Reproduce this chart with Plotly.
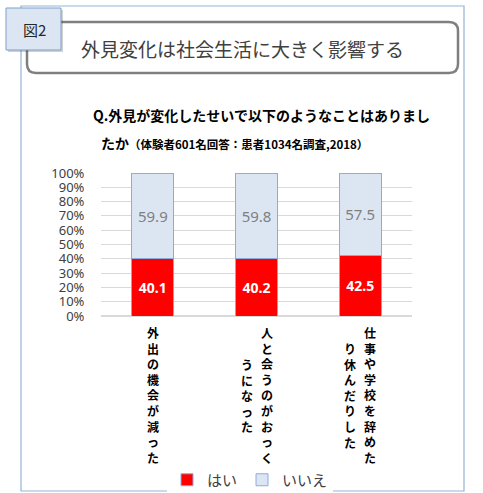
import plotly.graph_objects as go

W, H = 483, 493

# data
categories = ["外出の機会が減った", "人と会うのがおっくうになった", "仕事や学校を辞めたり休んだりした"]
label_columns = [
    ["外出の機会が減った"],
    ["人と会うのがおっく", "うになった"],
    ["仕事や学校を辞めた", "り休んだりした"],
]
series_names = ["はい", "いいえ"]
yes_values = [40.1, 40.2, 42.5]
no_values = [59.9, 59.8, 57.5]
ytick_vals = list(range(0, 101, 10))
ytick_text = [f"{v}%" for v in ytick_vals]

fig_label = "図2"
headline = "外見変化は社会生活に大きく影響する"
question_1 = "Q.外見が変化したせいで以下のようなことはありまし"
question_2 = "たか"
question_note = "（体験者601名回答：患者1034名調査,2018）"

JP = "Noto Sans CJK JP"
NUM = "Noto Sans"


def px(x):
    return x / W


def py(y):
    return 1 - y / H


fig = go.Figure()
fig.add_trace(go.Bar(
    x=categories, y=yes_values, name=series_names[0],
    marker=dict(color="#FF0000", line=dict(color="#8FAADC", width=1)),
    text=[f"{v:.1f}" for v in yes_values], textposition="inside",
    insidetextanchor="middle", constraintext="none",
    textfont=dict(family=NUM, size=14, color="white", weight="bold"),
))
fig.add_trace(go.Bar(
    x=categories, y=no_values, name=series_names[1],
    marker=dict(color="#DCE6F2", line=dict(color="#8FAADC", width=1)),
    text=[f"{v:.1f}" for v in no_values], textposition="inside",
    insidetextanchor="middle", constraintext="none",
    textfont=dict(family=NUM, size=15, color="#7F7F7F"),
))

shapes = []
# outer frame
shapes.append(dict(type="rect", xref="paper", yref="paper",
                   x0=px(21), x1=px(464), y0=py(491), y1=py(6),
                   line=dict(color="#95B3D7", width=1.2), layer="below"))


# rounded headline box
def rounded(x0, y0, x1, y1, r):
    rx, ry = r / W, r / H
    X0, X1, Y0, Y1 = px(x0), px(x1), py(y0), py(y1)
    return (f"M {X0 + rx},{Y0} L {X1 - rx},{Y0} Q {X1},{Y0} {X1},{Y0 - ry} "
            f"L {X1},{Y1 + ry} Q {X1},{Y1} {X1 - rx},{Y1} "
            f"L {X0 + rx},{Y1} Q {X0},{Y1} {X0},{Y1 + ry} "
            f"L {X0},{Y0 - ry} Q {X0},{Y0} {X0 + rx},{Y0} Z")


shapes.append(dict(type="path", xref="paper", yref="paper",
                   path=rounded(27, 22, 458, 73, 9),
                   fillcolor="white", line=dict(color="#7F7F7F", width=2.5)))
# 図2 tag with shadow
shapes.append(dict(type="rect", xref="paper", yref="paper",
                   x0=px(8), x1=px(63), y0=py(52), y1=py(10),
                   fillcolor="rgba(0,0,0,0.18)", line=dict(width=0)))
shapes.append(dict(type="rect", xref="paper", yref="paper",
                   x0=px(6), x1=px(61), y0=py(50), y1=py(8),
                   fillcolor="#DCE6F2", line=dict(color="#7F9FC8", width=1)))

annotations = [
    dict(text=fig_label, x=px(34), y=py(30), xref="paper", yref="paper",
         xanchor="center", yanchor="middle", showarrow=False,
         font=dict(family=JP, size=15, color="#262626")),
    dict(text=headline, x=px(243), y=py(49), xref="paper", yref="paper",
         xanchor="center", yanchor="middle", showarrow=False,
         font=dict(family=JP, size=19, color="#404040")),
    dict(text=question_1, x=px(91), y=py(115), xref="paper", yref="paper",
         xanchor="left", yanchor="middle", showarrow=False,
         font=dict(family=JP, size=14, color="black", weight="bold")),
    dict(text=f"<b>{question_2}</b><span style='font-size:11.5px'><b>{question_note}</b></span>",
         x=px(99), y=py(143), xref="paper", yref="paper",
         xanchor="left", yanchor="middle", showarrow=False,
         font=dict(family=JP, size=14, color="black")),
]

# vertical (tategaki) category labels, columns right-to-left
for cat, cols in zip(categories, label_columns):
    n_cols = len(cols)
    for ci, col in enumerate(cols):
        shift = (n_cols - 1) * 10 - ci * 20
        annotations.append(dict(
            text="<br>".join(col), x=cat, xref="x", xshift=shift,
            xanchor="center", y=py(395), yref="paper", yanchor="middle",
            showarrow=False,
            font=dict(family=JP, size=12, color="black", weight="bold")))

fig.update_layout(
    width=W, height=H,
    margin=dict(l=0, r=0, t=0, b=0, autoexpand=False),
    paper_bgcolor="white", plot_bgcolor="white",
    barmode="stack", bargap=0.595,
    showlegend=True,
    legend=dict(orientation="h", x=px(250), xanchor="center",
                y=py(480), yanchor="middle",
                font=dict(family=JP, size=15, color="#404040"),
                traceorder="normal", itemwidth=30),
    xaxis=dict(domain=[px(101), px(412)], showticklabels=False,
               showline=False, ticks="", automargin=False),
    yaxis=dict(domain=[py(316), py(173)], range=[0, 100],
               tickvals=ytick_vals, ticktext=ytick_text,
               showgrid=True, gridcolor="#D9D9D9", gridwidth=1,
               zeroline=True, zerolinecolor="#D9D9D9",
               ticks="outside", ticklen=13, tickcolor="rgba(0,0,0,0)",
               tickfont=dict(family=NUM, size=13, color="#404040"),
               automargin=False),
    shapes=shapes,
    annotations=annotations,
)

# drop the browser's default 8px body margin so the figure sits at 0,0
fig.write_html("out.html", config={"displayModeBar": False},
               post_script="document.body.style.margin='0';")
